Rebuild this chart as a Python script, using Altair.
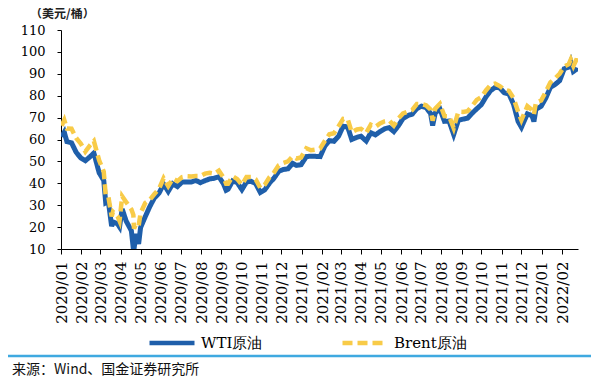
import altair as alt
import pandas as pd

dates = [
    "2020-01-02", "2020-01-06", "2020-01-10", "2020-01-17", "2020-01-24", "2020-01-31",
    "2020-02-07", "2020-02-14", "2020-02-20", "2020-02-28", "2020-03-06", "2020-03-09",
    "2020-03-13", "2020-03-18", "2020-03-20", "2020-03-27", "2020-03-30", "2020-04-03",
    "2020-04-09", "2020-04-17", "2020-04-20", "2020-04-21", "2020-04-24", "2020-04-28",
    "2020-05-01", "2020-05-08", "2020-05-15", "2020-05-22", "2020-05-29", "2020-06-05",
    "2020-06-12", "2020-06-19", "2020-06-26", "2020-07-03", "2020-07-10", "2020-07-17",
    "2020-07-24", "2020-07-31", "2020-08-07", "2020-08-14", "2020-08-21", "2020-08-28",
    "2020-09-04", "2020-09-08", "2020-09-11", "2020-09-18", "2020-09-25", "2020-10-02",
    "2020-10-09", "2020-10-16", "2020-10-23", "2020-10-30", "2020-11-06", "2020-11-13",
    "2020-11-20", "2020-11-27", "2020-12-04", "2020-12-11", "2020-12-18", "2020-12-24",
    "2020-12-31", "2021-01-08", "2021-01-15", "2021-01-22", "2021-01-29", "2021-02-05",
    "2021-02-12", "2021-02-19", "2021-02-26", "2021-03-05", "2021-03-12", "2021-03-18",
    "2021-03-26", "2021-04-01", "2021-04-09", "2021-04-16", "2021-04-23", "2021-04-30",
    "2021-05-07", "2021-05-14", "2021-05-21", "2021-05-28", "2021-06-04", "2021-06-11",
    "2021-06-18", "2021-06-25", "2021-07-02", "2021-07-09", "2021-07-16", "2021-07-19",
    "2021-07-23", "2021-07-30", "2021-08-06", "2021-08-13", "2021-08-20", "2021-08-27",
    "2021-09-03", "2021-09-10", "2021-09-17", "2021-09-24", "2021-10-01", "2021-10-08",
    "2021-10-15", "2021-10-22", "2021-10-29", "2021-11-05", "2021-11-12", "2021-11-19",
    "2021-11-26", "2021-12-01", "2021-12-10", "2021-12-17", "2021-12-20", "2021-12-23",
    "2021-12-31", "2022-01-07", "2022-01-14", "2022-01-21", "2022-01-28", "2022-02-04",
    "2022-02-11", "2022-02-14", "2022-02-18", "2022-02-23", "2022-02-24",
]

wti = [
    61.2, 63.3, 59.0, 58.5, 54.2, 51.6,
    50.3, 52.1, 53.8, 44.8, 41.3, 31.1,
    31.7, 20.4, 22.4, 21.5, 20.1, 28.3,
    22.8, 18.3, 10.0, 10.0, 16.9, 12.3,
    19.8, 24.7, 29.4, 33.3, 35.5, 39.6,
    36.3, 39.8, 38.5, 40.6, 40.6, 40.6,
    41.3, 40.3, 41.2, 42.0, 42.3, 43.0,
    39.8, 36.8, 37.3, 41.1, 40.3, 37.1,
    40.6, 40.9, 39.9, 35.8, 37.1, 40.1,
    42.4, 45.5, 46.3, 46.6, 49.1, 48.2,
    48.5, 52.2, 52.4, 52.3, 52.2, 56.9,
    59.5, 59.2, 61.5, 66.1, 65.6, 60.0,
    61.0, 61.5, 59.3, 63.1, 62.1, 63.6,
    64.9, 65.4, 63.6, 66.3, 69.6, 70.9,
    71.6, 74.1, 75.2, 74.6, 71.8, 66.4,
    72.1, 74.0, 68.3, 68.4, 62.3, 68.7,
    69.3, 69.7, 72.0, 74.0, 75.9, 79.4,
    82.3, 83.8, 83.6, 81.3, 80.8, 76.1,
    68.2, 65.6, 71.7, 70.9, 68.2, 73.8,
    75.2, 78.9, 83.8, 85.1, 86.8, 92.3,
    93.1, 95.5, 91.1, 92.1, 92.8,
]

brent = [
    66.3, 68.9, 65.0, 64.9, 60.7, 58.2,
    54.5, 57.3, 59.3, 50.5, 45.3, 34.4,
    33.9, 24.9, 27.0, 24.9, 22.8, 34.1,
    31.5, 28.1, 25.6, 19.3, 21.4, 20.5,
    26.4, 31.0, 32.5, 35.1, 37.5, 42.3,
    38.7, 42.2, 41.0, 42.8, 43.2, 43.1,
    43.3, 43.3, 44.4, 44.8, 44.4, 45.8,
    42.7, 39.8, 39.8, 43.2, 41.9, 39.3,
    42.9, 42.9, 41.8, 37.9, 39.5, 42.8,
    45.0, 48.2, 49.3, 50.0, 52.3, 51.3,
    51.8, 56.0, 55.1, 55.4, 55.9, 59.3,
    62.4, 62.9, 66.1, 69.4, 69.2, 63.3,
    64.6, 64.9, 63.0, 66.8, 65.8, 67.3,
    68.3, 68.7, 66.4, 69.6, 71.9, 72.7,
    73.5, 76.2, 76.2, 75.6, 73.6, 68.6,
    74.1, 76.3, 70.7, 70.6, 65.2, 72.7,
    72.6, 72.9, 75.3, 78.1, 79.3, 82.4,
    84.9, 85.5, 84.4, 82.7, 82.2, 78.9,
    72.7, 68.9, 75.2, 73.5, 71.5, 76.9,
    77.8, 81.8, 86.1, 87.9, 90.0, 93.3,
    94.4, 96.5, 93.5, 96.8, 99.1,
]

series_names = ["WTI原油", "Brent原油"]
y_ticks = [10, 20, 30, 40, 50, 60, 70, 80, 90, 100, 110]
y_title = ["（美元/桶）"]
source_text = ["来源：Wind、国金证券研究所"]
x_domain = ["2020-01-01", "2022-02-25"]

df = pd.concat([
    pd.DataFrame({"date": dates, "price": wti, "series": series_names[0]}),
    pd.DataFrame({"date": dates, "price": brent, "series": series_names[1]}),
])

W, H = 517, 219
blue = "#1F5FAA"
yellow = "#F8CB48"

color = alt.Color(
    "series:N",
    scale=alt.Scale(domain=series_names, range=[blue, yellow]),
    legend=alt.Legend(
        title=None, orient="none", legendX=86, legendY=288, direction="horizontal",
        symbolType="stroke", symbolSize=2025, symbolStrokeWidth=4.5,
        labelFont="DejaVu Serif", labelFontSize=15, labelColor="#000",
        labelOffset=4, columnPadding=70,
    ),
)
dash = alt.StrokeDash(
    "series:N",
    scale=alt.Scale(domain=series_names, range=[[1, 0], [10, 5]]),
    legend=None,
)

x = alt.X(
    "date:T",
    scale=alt.Scale(type="utc", domain=x_domain),
    axis=alt.Axis(
        title=None, format="%Y/%m", tickCount={"interval": "month", "step": 1},
        labelAngle=-90, labelAlign="right", labelBaseline="middle",
        labelFont="DejaVu Serif", labelFontSize=15, labelColor="#000",
        tickSize=5, labelPadding=7, grid=False, domainColor="#000", tickColor="#000",
        labelOverlap=False, labelBound=False, labelFlush=False,
    ),
)
y = alt.Y(
    "price:Q",
    scale=alt.Scale(domain=[10, 110], nice=False, zero=False),
    axis=alt.Axis(
        values=y_ticks, title=None,
        labelFont="DejaVu Serif", labelFontSize=13, labelColor="#000", labelPadding=12,
        tickSize=4, grid=False, domainColor="#000", tickColor="#000",
    ),
)

base = alt.Chart(df)
wti_line = base.transform_filter(alt.datum.series == series_names[0]).mark_line(
    strokeWidth=5, clip=True
).encode(x=x, y=y, color=color, strokeDash=dash)
brent_line = base.transform_filter(alt.datum.series == series_names[1]).mark_line(
    strokeWidth=4.5, clip=True
).encode(x=x, y=y, color=color, strokeDash=dash)

ytitle = alt.Chart(pd.DataFrame({"t": y_title})).mark_text(
    align="left", baseline="middle", font="Noto Sans CJK SC", fontSize=12,
    fontWeight="bold", color="#222"
).encode(text="t:N", x=alt.value(-31), y=alt.value(-16))

sep = alt.Chart(pd.DataFrame({"a": [0]})).mark_rule(color="#3FA9E0", strokeWidth=2.5).encode(
    x=alt.value(-53), x2=alt.value(W + 13), y=alt.value(326)
)
src = alt.Chart(pd.DataFrame({"t": source_text})).mark_text(
    align="left", baseline="middle", font="Noto Sans CJK SC", fontSize=14, color="#111"
).encode(text="t:N", x=alt.value(-49), y=alt.value(340))

chart = alt.layer(wti_line, brent_line, ytitle, sep, src).properties(
    width=W, height=H,
    autosize=alt.AutoSizeParams(type="none"),
    padding={"left": 53, "top": 22, "right": 13, "bottom": 128},
    background="white",
).configure_view(stroke=None)

chart.save("out.html", embed_options={"renderer": "svg", "actions": False})
